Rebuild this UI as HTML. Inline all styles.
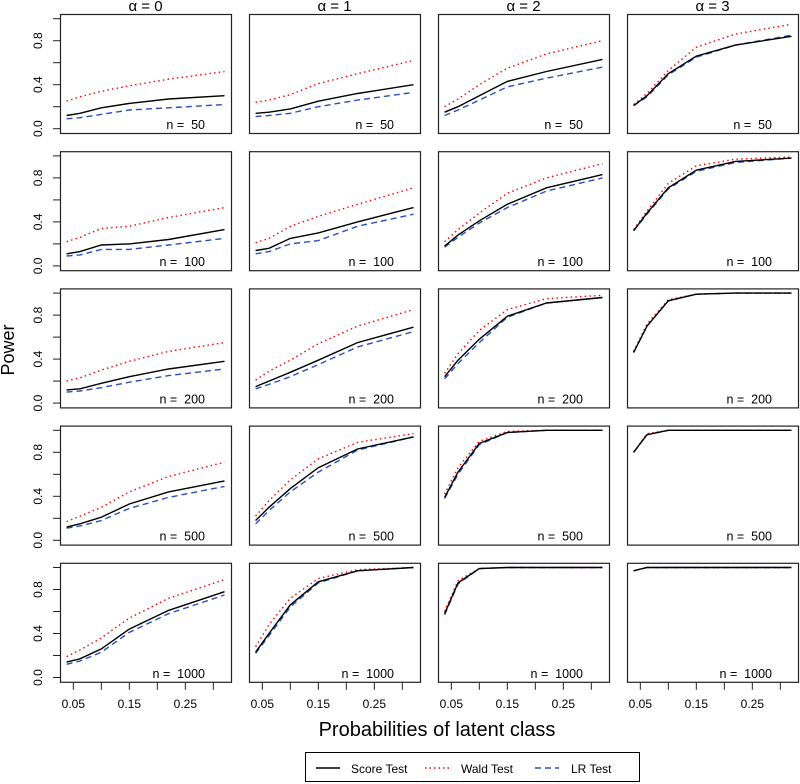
<!DOCTYPE html>
<html><head><meta charset="utf-8"><style>
html,body{margin:0;padding:0;background:#fff}
svg{display:block;font-family:"Liberation Sans",sans-serif}
</style></head><body>
<svg id="chart" width="800" height="784" viewBox="0 0 800 784">
<text x="14" y="350" font-size="18" text-anchor="middle" transform="rotate(-90 14 350)">Power</text>
<text x="437" y="736" font-size="20" text-anchor="middle">Probabilities of latent class</text>
<g>
<rect x="305.5" y="752.5" width="334" height="29" fill="#fff" stroke="#000" stroke-width="1"/>
<line x1="316" y1="768" x2="340" y2="768" stroke="#000" stroke-width="1.5"/>
<text x="351" y="773" font-size="12">Score Test</text>
<line x1="425" y1="768" x2="449" y2="768" stroke="#f00" stroke-width="1.5" stroke-dasharray="1.5 3"/>
<text x="461" y="773" font-size="12">Wald Test</text>
<line x1="535" y1="768" x2="559" y2="768" stroke="#2a4fbf" stroke-width="1.5" stroke-dasharray="6 4"/>
<text x="571" y="773" font-size="12">LR Test</text>
</g>
</svg>
<script>
const probs=[0.038,0.062,0.1,0.15,0.22,0.32];
const alphas=[0,1,2,3];
const sizes=[50,100,200,500,1000];
const yTicks=[0,0.2,0.4,0.6,0.8,1.0];
const yLabels=["0.0","0.4","0.8"];
const xTicks=[0.05,0.1,0.15,0.2,0.25,0.3];
const xLabels=["0.05","0.15","0.25"];
// score[row][col], wald[row][col], lr[row][col]
const score=[
[[0.12,0.14,0.19,0.23,0.27,0.30],[0.14,0.15,0.18,0.25,0.32,0.40],[0.15,0.20,0.30,0.43,0.52,0.63],[0.21,0.30,0.50,0.66,0.76,0.84]],
[[0.11,0.13,0.19,0.20,0.24,0.33],[0.14,0.16,0.25,0.30,0.40,0.53],[0.18,0.28,0.41,0.56,0.71,0.83],[0.32,0.48,0.71,0.87,0.95,0.98]],
[[0.12,0.13,0.18,0.24,0.31,0.38],[0.15,0.20,0.28,0.39,0.55,0.69],[0.24,0.39,0.58,0.79,0.91,0.96],[0.46,0.70,0.93,0.99,1.0,1.0]],
[[0.12,0.15,0.21,0.33,0.44,0.54],[0.18,0.30,0.47,0.66,0.83,0.94],[0.39,0.62,0.88,0.98,1.0,1.0],[0.80,0.96,1.0,1.0,1.0,1.0]],
[[0.14,0.17,0.26,0.44,0.61,0.78],[0.23,0.40,0.66,0.87,0.97,1.0],[0.58,0.86,0.99,1.0,1.0,1.0],[0.97,1.0,1.0,1.0,1.0,1.0]]];
const wald=[
[[0.25,0.29,0.34,0.39,0.45,0.52],[0.24,0.26,0.31,0.41,0.50,0.62],[0.20,0.27,0.40,0.55,0.68,0.80],[0.22,0.32,0.53,0.74,0.86,0.95]],
[[0.22,0.26,0.34,0.36,0.44,0.53],[0.21,0.25,0.36,0.45,0.56,0.71],[0.22,0.33,0.48,0.66,0.80,0.93],[0.33,0.50,0.75,0.91,0.97,0.99]],
[[0.20,0.23,0.30,0.38,0.47,0.55],[0.21,0.29,0.39,0.54,0.70,0.85],[0.27,0.45,0.66,0.85,0.95,0.98],[0.47,0.72,0.94,0.99,1.0,1.0]],
[[0.17,0.22,0.30,0.44,0.58,0.71],[0.22,0.36,0.55,0.74,0.89,0.97],[0.42,0.66,0.90,0.99,1.0,1.0],[0.80,0.97,1.0,1.0,1.0,1.0]],
[[0.19,0.25,0.36,0.54,0.72,0.89],[0.28,0.48,0.72,0.90,0.98,1.0],[0.60,0.88,0.99,1.0,1.0,1.0],[0.97,1.0,1.0,1.0,1.0,1.0]]];
const lr=[
[[0.09,0.10,0.13,0.17,0.19,0.22],[0.11,0.12,0.14,0.20,0.26,0.33],[0.12,0.17,0.26,0.38,0.46,0.56],[0.21,0.29,0.49,0.65,0.76,0.85]],
[[0.09,0.10,0.15,0.15,0.19,0.25],[0.11,0.13,0.20,0.23,0.36,0.47],[0.17,0.26,0.39,0.53,0.68,0.80],[0.32,0.47,0.70,0.86,0.94,0.98]],
[[0.10,0.11,0.14,0.19,0.25,0.31],[0.13,0.17,0.24,0.35,0.51,0.65],[0.22,0.36,0.55,0.78,0.91,0.96],[0.46,0.70,0.93,0.99,1.0,1.0]],
[[0.11,0.13,0.18,0.29,0.39,0.49],[0.15,0.27,0.44,0.62,0.82,0.94],[0.38,0.60,0.87,0.98,1.0,1.0],[0.80,0.96,1.0,1.0,1.0,1.0]],
[[0.12,0.15,0.23,0.41,0.58,0.75],[0.22,0.38,0.64,0.86,0.97,1.0],[0.57,0.85,0.99,1.0,1.0,1.0],[0.97,1.0,1.0,1.0,1.0,1.0]]];

const svg=document.getElementById('chart');
const NS='http://www.w3.org/2000/svg';
const PW=171,PH=119,X0=60,Y0=14,DX=189,DY=137.2;
const XMIN=0.0262,XS=560,YS=110,YOFF=114.7;
function mk(tag,attrs,parent){const e=document.createElementNS(NS,tag);for(const k in attrs)e.setAttribute(k,attrs[k]);(parent||svg).appendChild(e);return e;}
function sx(px,v){return px+(v-XMIN)*XS;}
function sy(py,v){return py+YOFF-v*YS;}
const series=[{d:score,name:'score',c:'#000',dash:''},{d:wald,name:'wald',c:'#f00',dash:'1.5 3.2'},{d:lr,name:'lr',c:'#2a4fbf',dash:'6 4'}];
for(let r=0;r<sizes.length;r++){for(let c=0;c<alphas.length;c++){
 const px=X0+c*DX, py=Y0+r*DY;
 const g=mk('g',{});
 
 
 const order=[1,2,0];
 for(const i of order){const s=series[i];
  const pts=probs.map((p,k)=>sx(px,p).toFixed(1)+','+sy(py,s.d[r][c][k]).toFixed(1)).join(' ');
  const pl=mk('polyline',{points:pts,fill:'none',stroke:s.c,'stroke-width':1.4,'stroke-dasharray':s.dash},g);
  
  
 }
 const fr=mk('rect',{x:px+0.5,y:py+0.5,width:PW,height:PH,fill:'none',stroke:'#222','stroke-width':1.2},g);
 
 
 const nl=mk('text',{x:px+PW-26,y:py+PH-4,'font-size':12.5,'text-anchor':'end'},g);
 nl.textContent='n =\u00a0 '+sizes[r];
 
 
 if(r===0){const t=mk('text',{x:px+PW/2,y:11,'font-size':15,'text-anchor':'middle'});
  t.textContent='\u03b1 = '+alphas[c];
  
  }
 if(c===0){
  for(const v of yTicks){const y=sy(py,v);mk('line',{x1:px-7,x2:px,y1:y,y2:y,stroke:'#222','stroke-width':1},g);}
  yLabels.forEach(l=>{const y=sy(py,parseFloat(l));const t=mk('text',{x:px-18,y:y,'font-size':12,'text-anchor':'middle',transform:'rotate(-90 '+(px-18)+' '+y+')'},g);t.textContent=l;
   
   });
 }
 if(r===sizes.length-1){
  for(const v of xTicks){const x=sx(px,v);mk('line',{x1:x,x2:x,y1:py+PH+1,y2:py+PH+8,stroke:'#222','stroke-width':1},g);}
  xLabels.forEach(l=>{const t=mk('text',{x:sx(px,parseFloat(l)),y:708,'font-size':12,'text-anchor':'middle'},g);t.textContent=l;
   
   });
 }
}}
</script>
</body></html>
